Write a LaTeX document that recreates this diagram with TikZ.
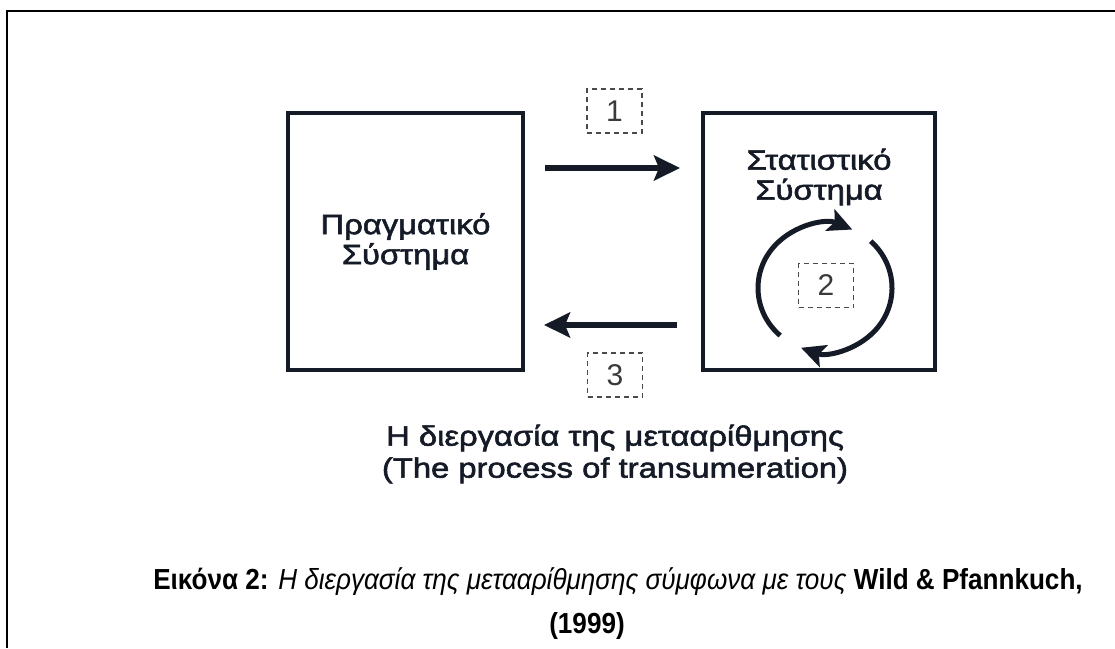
\documentclass[tikz,border=0pt]{standalone}
\usepackage{fontspec}
\setmainfont{Liberation Sans}
\newfontfamily\diagfont[FakeStretch=1.17, FakeBold=2]{Liberation Sans}
\newfontfamily\capfont[FakeStretch=0.9]{Liberation Sans}
\usepackage{xcolor}
\definecolor{linedark}{HTML}{141A26}
\definecolor{numgray}{HTML}{3A3A3A}
\definecolor{dashgray}{HTML}{4A4A4A}
\usepackage{tikz}
\usetikzlibrary{arrows.meta,positioning,calc}
\tikzset{
  sysbox/.style={rectangle, draw=linedark, line width=3.2pt, inner sep=0pt,
    minimum width=235pt, minimum height=257pt},
  systext/.style={align=center, text=linedark, font=\diagfont\fontsize{28}{30}\selectfont},
  numbox/.style={rectangle, draw=dashgray, line width=1.8pt, dash pattern=on 5pt off 4pt,
    minimum width=55pt, minimum height=44pt, inner sep=0pt, text=numgray,
    font=\fontsize{30}{32}\selectfont},
  flowarrow/.style={draw=linedark, line width=5.5pt, -{Stealth[length=26pt,width=25pt,inset=5pt]}},
  cyclearrow/.style={draw=linedark, line width=5pt, -{Stealth[length=24pt,width=23pt,inset=5pt]}},
  proctext/.style={align=center, text=linedark, font=\diagfont\fontsize{28}{32}\selectfont},
  captext/.style={align=center, text=black, font=\capfont\fontsize{29}{31}\selectfont},
}
\begin{document}
\begin{tikzpicture}[x=1pt,y=-1pt]
  \useasboundingbox (0,0) rectangle (1115,648);
  % frame
  \draw[line width=2.5pt, black] (7,648) -- (7,11) -- (1115,11);

  % the two systems
  \node[sysbox] (real) at (405.5,241.5) {};
  \node[sysbox, minimum width=232pt] (stat) at (819,241.5) {};
  \node[systext] (reallbl) at (real) {Πραγματικό\\Σύστημα};
  \node[systext] (statlbl) at (819,177) {Στατιστικό\\Σύστημα};

  % steps
  \node[numbox] (n1) at (614.5,111) {1};
  \node[numbox] (n2) at (826,285.5) {2};
  \node[numbox] (n3) at (615,375) {3};

  \coordinate (fwdA) at (545,168);
  \coordinate (fwdB) at (680,168);
  \coordinate (backA) at (677,325);
  \coordinate (backB) at (544,325);
  \draw[flowarrow] (fwdA) -- (fwdB);
  \draw[flowarrow] (backA) -- (backB);

  % cycle inside statistical system
  \coordinate (cyc) at (825,288);
  \draw[cyclearrow] (cyc) ++(228:67pt and 64pt)
    arc[start angle=228, end angle=66, x radius=67pt, y radius=64pt];
  \draw[cyclearrow] (cyc) ++(47:67pt and 64pt)
    arc[start angle=47, end angle=-111, x radius=67pt, y radius=64pt];

  \node[proctext] (proc) at (615,454) {Η διεργασία της μετααρίθμησης\\(The process of transumeration)};

  % caption
  \node[captext] (cap) at (618,582) {\textbf{Εικόνα 2:} \textit{Η διεργασία της μετααρίθμησης σύμφωνα με τους} \textbf{Wild \& Pfannkuch,}};
  \node[captext] (capyr) at (587,626) {\textbf{(1999)}};
\end{tikzpicture}
\end{document}
